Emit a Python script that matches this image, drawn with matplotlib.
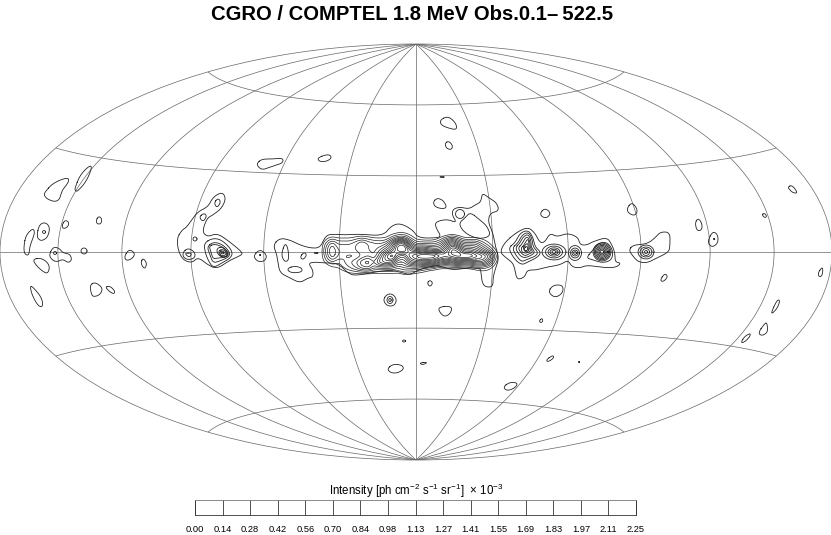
import numpy as np
import matplotlib
matplotlib.use("Agg")
import matplotlib.pyplot as plt

plt.rcParams['font.family'] = ['Liberation Sans', 'DejaVu Sans']
plt.rcParams['mathtext.fontset'] = 'custom'
plt.rcParams['mathtext.rm'] = 'Liberation Sans'
plt.rcParams['mathtext.default'] = 'regular'

TITLE = "CGRO / COMPTEL 1.8 MeV Obs.0.1\u2013\u2009522.5"
BAR_LABEL = r"Intensity [ph cm$^{-2}$ s$^{-1}$ sr$^{-1}$]  $\times$ 10$^{-3}$"
BAR_TICKS = [0.00, 0.14, 0.28, 0.42, 0.56, 0.70, 0.84, 0.98, 1.13, 1.27, 1.41, 1.55, 1.69, 1.83, 1.97, 2.11, 2.25]

# Contours: (across, down) map readings, origin handled below.
MAP_X0, MAP_Y0, MAP_SCALE = 416.0, 252.0, 2 * np.sqrt(2) / 416.0

contours_far_left = [
    [(45,192),(53,183),(68,177),(69,182),(62,190),(60,199),(55,202),(47,199),(44,195)],
    [(75,188),(80,175),(90,165),(92,168),(86,182),(77,192),(75,190)],
    [(62,225),(65,220),(69,222),(68,227),(63,229)],
    [(96,220),(99,216),(102,219),(101,224),(97,224)],
    [(37,235),(39,225),(45,222),(50,227),(48,237),(42,241),(38,239)],
    [(24,245),(26,235),(33,228),(35,233),(30,245),(29,255),(26,255),(24,252)],
    [(49,255),(53,247),(59,248),(63,253),(70,254),(72,260),(68,263),(63,259),(57,262),(52,260)],
    [(33,259),(42,258),(50,265),(48,274),(42,271),(35,264)],
    [(124,257),(129,249),(135,253),(133,258),(127,261)],
    [(141,262),(143,258),(147,263),(145,269),(142,266)],
    [(30,286),(33,287),(42,298),(43,307),(38,306),(32,295)],
    [(90,285),(95,282),(103,288),(100,295),(93,297),(91,293)],
    [(105,287),(110,286),(115,291),(114,294),(110,292)],
]

contours_cygnus = [
    [(177,238),(182,230),(187,227),(197,212),(208,207),(213,197),(222,192),(226,198),(222,208),(213,215),
     (207,218),(202,232),(208,237),(217,233),(230,242),(242,252),(242,255),(230,260),(217,269),(208,265),
     (198,257),(192,263),(183,260),(178,250)],
    [(199,217),(204,213),(207,216),(203,222)],
    [(214,203),(218,198),(221,202),(217,208)],
    [(183,252),(188,248),(195,252),(195,258),(188,260),(183,257)],
    [(185,253),(192,253),(190,257),(187,256)],
    [(204,243),(213,238),(222,240),(232,250),(232,257),(222,263),(213,268),(208,260),(205,252)],
    [(207,247),(213,242),(222,244),(230,252),(229,257),(220,261),(213,263),(210,255)],
    [(209,246),(215,244),(223,247),(229,253),(227,257),(218,258),(213,259),(211,252)],
    [(217,248),(223,247),(228,253),(227,257),(221,257),(217,253)],
    [(218,251),(223,249),(227,253),(226,257),(221,257)],
    [(220,251),(223,251),(226,254),(224,256),(220,255)],
    [(253,256),(260,249),(267,255),(265,261),(258,262)],
]

contours_upper = [
    [(257,163),(262,159),(273,159),(283,158),(283,163),(273,166),(263,170),(258,167)],
    [(317,158),(328,154),(332,157),(328,161),(320,162)],
    [(440,120),(448,116),(456,123),(457,130),(448,128),(441,125)],
    [(445,143),(449,141),(453,146),(451,150),(446,148)],
    [(433,202),(437,198),(443,200),(447,207),(443,209),(435,207)],
    [(540,213),(545,208),(551,213),(547,218),(542,217)],
    [(627,208),(632,202),(638,210),(635,216),(628,213)],
]

contours_right = [
    [(660,280),(665,273),(668,277),(663,282)],
    [(695,223),(698,218),(702,223),(702,230),(697,231)],
    [(708,240),(713,231),(718,235),(718,243),(713,247),(709,245)],
    [(788,187),(792,185),(798,193),(793,193),(789,189)],
    [(762,215),(764,213),(767,216),(765,218)],
    [(818,273),(822,267),(823,270),(822,276),(819,277)],
    [(771,313),(777,300),(780,300),(778,307),(773,313)],
    [(758,333),(765,323),(767,323),(768,332),(762,336)],
    [(741,342),(745,336),(751,333),(749,338),(743,343)],
]

contours_lower = [
    [(383,300),(387,294),(393,294),(397,300),(394,306),(387,306)],
    [(427,283),(430,280),(433,283),(430,287)],
    [(438,307),(452,306),(451,313),(445,317),(440,313)],
    [(548,292),(553,285),(563,285),(563,293),(555,298)],
    [(539,321),(542,318),(543,321),(541,323)],
    [(419,363),(428,362),(423,365)],
    [(387,369),(393,364),(402,365),(404,369),(398,373),(391,373)],
    [(503,387),(510,382),(518,383),(515,388),(507,391)],
    [(546,360),(553,355),(554,358),(548,362)],
]

contours_band_outer = [
    [(273,245),(280,238),(290,240),(300,245),(310,248),(320,248),(325,237),(330,234),(343,235),(360,234),
     (383,236),(391,226),(400,223),(413,230),(418,238),(437,238),(441,236),(436,228),(435,222),(447,219),
     (457,223),(452,215),(453,209),(460,207),(469,209),(475,205),(481,202),(482,193),(488,197),(497,203),
     (499,211),(490,213),(488,222),(493,233),(495,245),(499,258),(496,267),(493,277),(493,287),(485,287),
     (482,282),(481,272),(480,268),(467,268),(453,270),(443,267),(437,265),(420,269),(410,275),(400,272),
     (390,270),(375,272),(360,275),(350,275),(340,265),(333,263),(325,263),(317,262),(308,263),(313,270),
     (313,277),(308,278),(300,283),(290,278),(280,273),(278,263),(277,255)],
    [(470,212),(480,220),(487,226),(491,236),(480,239),(470,236),(462,230),(459,223),(465,218)],
    [(282,252),(285,243),(288,248),(289,260),(285,262),(282,257)],
    [(300,257),(304,252),(307,255),(303,260)],
    [(288,268),(295,266),(302,268),(302,272),(293,273),(288,271)],
    [(505,242),(517,232),(528,227),(535,233),(540,243),(545,242),(550,233),(557,237),(567,233),(578,237),
     (580,245),(587,245),(592,242),(607,237),(612,245),(615,253),(615,262),(621,263),(617,267),(607,268),
     (587,265),(580,268),(572,267),(568,260),(560,265),(547,267),(537,270),(527,270),(525,277),(517,280),
     (515,270),(513,263),(505,257),(500,252)],
    [(508,248),(515,243),(520,233),(528,230),(533,237),(535,247),(541,252),(538,257),(528,262),(522,265),(515,260)],
    [(512,248),(518,243),(522,235),(528,232),(532,238),(533,247),(538,252),(536,256),(528,259),(522,262),(517,257)],
    [(515,248),(520,243),(523,237),(528,234),(531,240),(531,247),(535,252),(532,255),(525,258),(520,256)],
    [(518,248),(522,244),(525,238),(528,237),(530,242),(530,247),(533,252),(529,254),(525,256),(521,253)],
    [(521,248),(524,245),(526,241),(528,239),(529,243),(529,248),(531,251),(527,253),(524,253),(522,252)],
    [(523,248),(525,245),(528,243),(528,248),(529,251),(525,252)],
    [(524,248),(527,246),(528,250),(525,251)],
    [(586,258),(593,250),(598,243),(607,242),(613,250),(612,260),(603,263),(593,260)],
    [(629,250),(633,245),(647,244),(655,238),(660,232),(670,232),(670,245),(669,252),(657,258),(647,263),(638,262),(632,255)],
]

# Small closed contours: centre across, centre down, half width, half height
ring_x =  [84, 44, 55, 195, 222.5, 260, 460, 390, 390, 404, 579, 714, 442, 316, 554, 554, 554, 554, 554,
           575, 575, 575, 575, 602, 602, 602, 602, 602, 602, 602, 646, 646, 646, 646]
ring_y =  [251, 232, 253, 239, 253, 255, 214, 300, 300, 341, 362, 239, 177, 253, 252, 252, 252, 252, 252,
           253, 253, 253, 253, 252, 252, 252, 252, 252, 252, 252, 252, 252, 252, 252]
ring_rx = [3, 1.5, 1.5, 2, 1.2, 0.6, 4.5, 3, 1.2, 1.5, 0.6, 0.6, 2, 1.8, 12, 8.5, 6, 4, 2,
           6.5, 4.5, 3, 1.4, 9, 7.8, 6.6, 5.4, 4.2, 3, 1.8, 8, 6, 3.5, 1.5]
ring_ry = [3, 1.5, 1.5, 2, 0.9, 0.6, 4.5, 3.5, 1.6, 1, 0.6, 0.6, 0.4, 0.4, 8, 6, 4.2, 2.8, 1.5,
           7.5, 5, 3, 1.4, 9, 7.8, 6.6, 5.4, 4.2, 3, 1.8, 7, 5, 3.5, 1.5]

# Inner Galactic plane: intensity in contour steps on a table of map readings
band_across = [320,326,332,338,344,350,356,362,368,374,380,386,392,398,404,410,416,422,428,434,440,446,452,458,464,470,476,482,488,494,500]
band_down = [226,232,238,244,250,256,262,268,274,280,286]
band_226 = [0]*31
band_232 = [0,0,0,0,0,0,0,0,0,0,0,.5,1,1.5,1.5,1,.5,0,0,0,0,0,.5,0,0,0,0,0,0,0,0]
band_238 = [0,1.5,2.5,2,2,2,2.5,3,2.5,2,2,2,3.5,5,5,3,1.5,1,.8,1,2,3.5,4.5,3.5,2,2,2,1.5,1,0,0]
band_244 = [.5,3.5,6,4,4,4,5,6.5,5,4.5,4,5,8,13,13,7,4,4,4,4,5,8,11,8,6,6,6,4,2.5,1,0]
band_250 = [.8,4.5,7.5,5,5,5,5,6,5,4.5,6,8,10,14,15,11,9,10,9,8,8,11,15,14,10,10,9,7,5,2.5,.5]
band_256 = [.8,4,7,5,4,3.5,4,5,6,5,8,12,15,10,9,13,15,16,16,16,14,13,14,15,15,15,13,12,10,5,.5]
band_262 = [.5,2.5,4,3,4,5,6,8,9,7,10,11,10,7,7,10,11,11,11,10,8,7,8,9,8,8,9,9,7,3,.5]
band_268 = [0,.6,1.5,2,3,4,5,6.5,7,5,5,5,5,4,5,5,5,4.5,3.5,3,2,2,2,2,1.8,2,3,3,2.5,1.2,0]
band_274 = [0,0,0,0,1,1.5,1.5,1.5,1.5,1.5,1.5,1.5,1.5,1.5,2,2,1.5,1,.5,0,0,0,0,0,0,0,0,1,1,.5,0]
band_280 = [0,0,0,0,0,0,0,0,0,0,0,0,0,.5,.5,.5,0,0,0,0,0,0,0,0,0,0,0,0,.7,0,0]
band_286 = [0]*31
band_levels = list(range(2, 17))


def to_plane(across, down):
    return (np.asarray(across, float) - MAP_X0) * MAP_SCALE, (MAP_Y0 - np.asarray(down, float)) * MAP_SCALE


def rounded(points, passes=3):
    p = np.asarray(points, float)
    for _ in range(passes):
        q = np.roll(p, -1, axis=0)
        p = np.column_stack([0.75 * p + 0.25 * q, 0.25 * p + 0.75 * q]).reshape(-1, 2)
    return np.vstack([p, p[:1]])


W, H = 831, 535
fig = plt.figure(figsize=(W / 100, H / 100), dpi=100)
ax = fig.add_axes([0 / W, (H - 460) / H, 832 / W, 416 / H], projection='hammer')
ax.set_longitude_grid(30)
ax.set_latitude_grid(30)
ax.set_longitude_grid_ends(90)
ax.set_xticklabels([])
ax.set_yticklabels([])
ax.tick_params(length=0)
ax.grid(True, color='#666666', lw=0.5)
for s in ax.spines.values():
    s.set_edgecolor('#666666')
    s.set_linewidth(0.5)
inv = ax.transProjection.inverted()


def to_lonlat(across, down):
    x, y = to_plane(across, down)
    pts = inv.transform(np.column_stack([np.ravel(x), np.ravel(y)]))
    return pts[:, 0].reshape(np.shape(x)), pts[:, 1].reshape(np.shape(x))


LINE = dict(color='#222222', lw=0.6, solid_joinstyle='round')
for group in (contours_far_left, contours_cygnus, contours_upper, contours_right, contours_lower, contours_band_outer):
    for curve in group:
        c = rounded(curve)
        lon, lat = to_lonlat(c[:, 0], c[:, 1])
        ax.plot(lon, lat, **LINE)

t = np.linspace(0, 2 * np.pi, 25)
for cx, cy, rx, ry in zip(ring_x, ring_y, ring_rx, ring_ry):
    lon, lat = to_lonlat(cx + rx * np.cos(t), cy + ry * np.sin(t))
    ax.plot(lon, lat, **LINE)

table = np.array([band_226, band_232, band_238, band_244, band_250, band_256, band_262, band_268, band_274, band_280, band_286], float)
fine_x = np.arange(band_across[0], band_across[-1] + 0.1, 1.5)
fine_y = np.arange(band_down[0], band_down[-1] + 0.1, 1.5)
fine = np.array([np.interp(fine_x, band_across, r) for r in table])
fine = np.array([np.interp(fine_y, band_down, c) for c in fine.T]).T
kernel = np.ones(3) / 3
for _ in range(2):
    fine = np.apply_along_axis(lambda r: np.convolve(r, kernel, mode='same'), 1, fine)
    fine = np.apply_along_axis(lambda r: np.convolve(r, kernel, mode='same'), 0, fine)
gx, gy = np.meshgrid(fine_x, fine_y)
lon_g, lat_g = to_lonlat(gx, gy)
ax.contour(lon_g, lat_g, fine, levels=band_levels, colors='#222222', linewidths=0.5)

cax = fig.add_axes([195 / W, (H - 515) / H, 441 / W, 15 / H])
cax.set_xlim(0, len(BAR_TICKS) - 1)
cax.set_ylim(0, 1)
cax.set_yticks([])
cax.set_xticks(range(len(BAR_TICKS)))
cax.set_xticklabels([f"{v:.2f}" for v in BAR_TICKS], fontsize=6.7)
cax.tick_params(axis='x', direction='in', length=10.8, width=0.6, color='#333333', pad=7)
for s in cax.spines.values():
    s.set_linewidth(0.6)
    s.set_edgecolor('#333333')
cax.spines['top'].set_edgecolor('#777777')

fig.text(416 / W, 1 - 491 / H, BAR_LABEL, ha='center', va='center', fontsize=8.3)
fig.text(412.5 / W, 1 - 14.5 / H, TITLE, ha='center', va='center', fontsize=14.6, fontweight='bold')
fig.savefig('out.png', dpi=100)
